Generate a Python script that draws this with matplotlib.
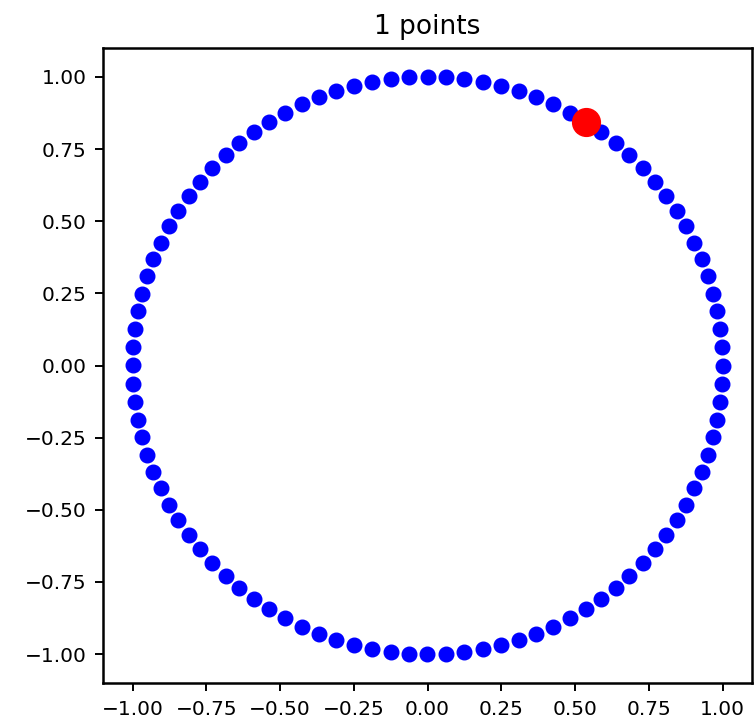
import matplotlib
matplotlib.use("Agg")
import numpy as np
import matplotlib.pyplot as plt

# Angles (degrees) of the blue points, evenly spaced round the unit circle
angles_deg = [
    0.0, 3.6, 7.2, 10.8, 14.4, 18.0, 21.6, 25.2, 28.8, 32.4,
    36.0, 39.6, 43.2, 46.8, 50.4, 54.0, 57.6, 61.2, 64.8, 68.4,
    72.0, 75.6, 79.2, 82.8, 86.4, 90.0, 93.6, 97.2, 100.8, 104.4,
    108.0, 111.6, 115.2, 118.8, 122.4, 126.0, 129.6, 133.2, 136.8, 140.4,
    144.0, 147.6, 151.2, 154.8, 158.4, 162.0, 165.6, 169.2, 172.8, 176.4,
    180.0, 183.6, 187.2, 190.8, 194.4, 198.0, 201.6, 205.2, 208.8, 212.4,
    216.0, 219.6, 223.2, 226.8, 230.4, 234.0, 237.6, 241.2, 244.8, 248.4,
    252.0, 255.6, 259.2, 262.8, 266.4, 270.0, 273.6, 277.2, 280.8, 284.4,
    288.0, 291.6, 295.2, 298.8, 302.4, 306.0, 309.6, 313.2, 316.8, 320.4,
    324.0, 327.6, 331.2, 334.8, 338.4, 342.0, 345.6, 349.2, 352.8, 356.4,
]
radius = 1.0
highlight_deg = [57.6]   # the single red point
title_text = "1 points"

theta = np.deg2rad(angles_deg)
x = radius * np.cos(theta)
y = radius * np.sin(theta)
hx = radius * np.cos(np.deg2rad(highlight_deg))
hy = radius * np.sin(np.deg2rad(highlight_deg))

fig = plt.figure(figsize=(7.55, 7.28), dpi=100)
ax = fig.add_axes([103 / 755, 1 - 683 / 728, 649 / 755, 635 / 728])

ax.plot(x, y, "o", color="blue", markersize=10.5)
ax.plot(hx, hy, "o", color="red", markersize=20)

ax.set_title(title_text, fontsize=19, pad=10)
ax.tick_params(labelsize=14.5, length=6, width=1.4, pad=6)
for s in ax.spines.values():
    s.set_linewidth(1.8)

fig.savefig("out.png", dpi=100)
